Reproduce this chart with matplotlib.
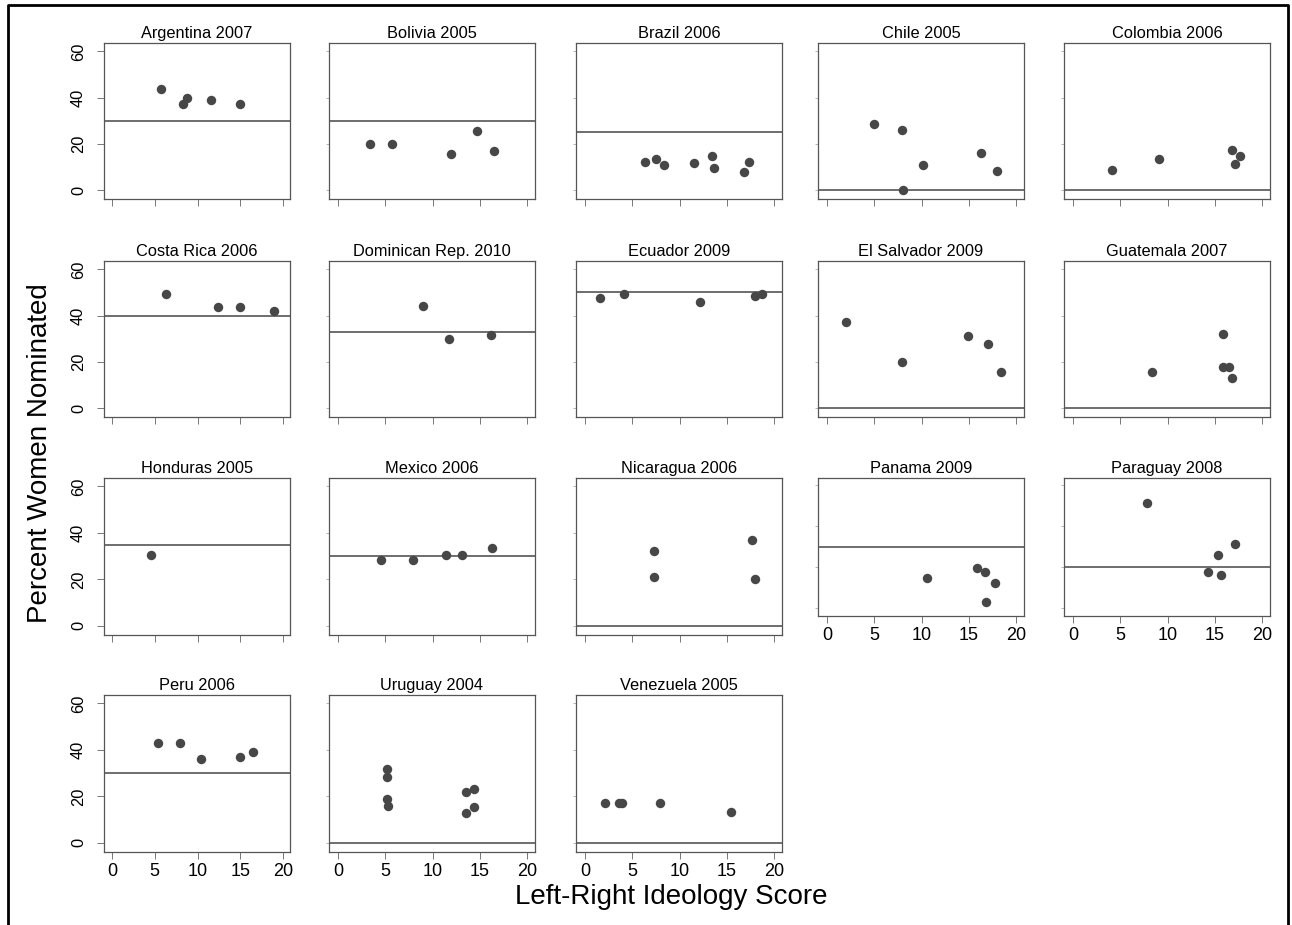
import matplotlib
matplotlib.use("Agg")
import matplotlib.pyplot as plt
from matplotlib.lines import Line2D

plt.rcParams['font.family'] = ['Liberation Sans', 'DejaVu Sans']

# Datos (ideologia, % mujeres nominadas)
titulos = ["Argentina 2007", "Bolivia 2005", "Brazil 2006", "Chile 2005", "Colombia 2006",
           "Costa Rica 2006", "Dominican Rep. 2010", "Ecuador 2009", "El Salvador 2009", "Guatemala 2007",
           "Honduras 2005", "Mexico 2006", "Nicaragua 2006", "Panama 2009", "Paraguay 2008",
           "Peru 2006", "Uruguay 2004", "Venezuela 2005"]

# linea horizontal (cuota) de cada pais
cuotas = [30, 30, 25, 0, 0, 40, 33, 50, 0, 0, 35, 30, 0, 30, 20, 30, 0, 0]

argentinaX = [5.7, 8.3, 8.8, 11.6, 15.0]
argentinaY = [43.6, 37.4, 39.8, 39.1, 37.4]
boliviaX = [3.4, 5.7, 11.9, 14.7, 16.5]
boliviaY = [20.0, 20.0, 15.5, 25.5, 17.0]
brazilX = [6.4, 7.5, 8.4, 11.5, 13.4, 13.6, 16.8, 17.3]
brazilY = [12.1, 13.4, 10.7, 11.5, 14.9, 9.7, 7.9, 12.1]
chileX = [5.0, 7.9, 8.0, 10.1, 16.3, 18.0]
chileY = [28.6, 25.8, 0.0, 10.7, 16.2, 8.4]
colombiaX = [4.1, 9.1, 16.8, 17.6, 17.1]
colombiaY = [8.7, 13.4, 17.3, 14.7, 11.3]
costaRicaX = [6.3, 12.4, 15.0, 19.0]
costaRicaY = [49.2, 43.9, 43.9, 42.1]
dominicanaX = [9.0, 11.7, 16.2]
dominicanaY = [44.3, 29.9, 31.6]
ecuadorX = [1.6, 4.1, 12.2, 18.0, 18.7]
ecuadorY = [47.5, 49.5, 45.9, 48.3, 49.5]
salvadorX = [2.0, 7.9, 14.9, 17.0, 18.4]
salvadorY = [37.1, 20.1, 31.0, 27.6, 15.4]
guatemalaX = [8.4, 15.9, 15.9, 16.5, 16.8]
guatemalaY = [15.6, 31.9, 17.7, 17.7, 12.8]
hondurasX = [4.6]
hondurasY = [30.6]
mexicoX = [4.5, 7.9, 11.4, 13.1, 16.3]
mexicoY = [28.4, 28.4, 30.3, 30.3, 33.3]
nicaraguaX = [7.3, 7.3, 17.6, 18.0]
nicaraguaY = [32.3, 21.1, 36.8, 20.0]
panamaX = [10.6, 15.9, 16.7, 17.8, 16.8]
panamaY = [14.5, 19.8, 17.7, 12.3, 3.0]
paraguayX = [7.85, 17.1, 15.3, 14.3, 15.6]
paraguayY = [51.3, 31.3, 25.7, 17.8, 16.3]
peruX = [5.4, 7.9, 10.4, 15.0, 16.5]
peruY = [43.0, 43.0, 36.1, 36.9, 38.9]
uruguayX = [5.2, 5.2, 5.2, 5.25, 13.5, 14.4, 13.5, 14.4]
uruguayY = [31.6, 28.4, 18.7, 15.9, 22.1, 23.2, 13.0, 15.4]
venezuelaX = [2.1, 3.6, 3.95, 7.9, 15.45]
venezuelaY = [17.1, 17.1, 17.1, 17.1, 13.2]

datosX = [argentinaX, boliviaX, brazilX, chileX, colombiaX, costaRicaX, dominicanaX, ecuadorX,
          salvadorX, guatemalaX, hondurasX, mexicoX, nicaraguaX, panamaX, paraguayX, peruX,
          uruguayX, venezuelaX]
datosY = [argentinaY, boliviaY, brazilY, chileY, colombiaY, costaRicaY, dominicanaY, ecuadorY,
          salvadorY, guatemalaY, hondurasY, mexicoY, nicaraguaY, panamaY, paraguayY, peruY,
          uruguayY, venezuelaY]

# Posiciones de los paneles en pixeles
W, H = 1292, 925
colIzq = [104, 329, 576, 818, 1064]
colDer = [290, 535, 782, 1024, 1270]
filaSup = [43, 261, 478, 695]
filaInf = [199, 417, 635, 852]

gris = '#474747'
fig = plt.figure(figsize=(W / 100, H / 100), dpi=100)

for k in range(len(titulos)):
    fila = k // 5
    col = k % 5
    izq = colIzq[col]
    der = colDer[col]
    sup = filaSup[fila]
    inf = filaInf[fila]
    # los paneles que llevan etiquetas x en la fila 3 son mas bajos
    conEtiquetaX = fila == 3 or (fila == 2 and col >= 3)
    if fila == 2 and col >= 3:
        inf = 616
    ax = fig.add_axes([izq / W, 1 - inf / H, (der - izq) / W, (inf - sup) / H])
    ax.plot(datosX[k], datosY[k], 'o', color=gris, markersize=6.8, markeredgewidth=0)
    ax.axhline(cuotas[k], color=gris, linewidth=1.1)
    ax.set_xlim(-0.94, 20.82)
    ax.set_ylim(-3.9, 63.6)
    ax.set_xticks([0, 5, 10, 15, 20])
    ax.set_yticks([0, 20, 40, 60])
    ax.set_title(titulos[k], fontsize=11.8, pad=3.5)
    for s in ax.spines.values():
        s.set_color('#555555')
        s.set_linewidth(0.9)
    ax.tick_params(axis='x', length=5, width=0.7, color='#777777', labelsize=13, pad=3)
    if not conEtiquetaX:
        ax.tick_params(axis='x', labelbottom=False)
    if col == 0:
        ax.tick_params(axis='y', length=5, width=0.7, color='#777777', labelsize=11.8,
                       labelrotation=90, pad=8)
        for et in ax.get_yticklabels():
            et.set_va('center')
    else:
        ax.tick_params(axis='y', length=2, width=0.6, color='#aaaaaa', labelleft=False)

fig.text(40 / W, 1 - 453 / H, "Percent Women Nominated", rotation=90, fontsize=20,
         ha='center', va='center')
fig.text(671 / W, 1 - 897 / H, "Left-Right Ideology Score", fontsize=20,
         ha='center', va='center')

# marco negro alrededor
fig.add_artist(Line2D([8 / W, 8 / W, 1288 / W, 1288 / W], [-0.01, 1 - 5 / H, 1 - 5 / H, -0.01],
                      color='black', linewidth=2, transform=fig.transFigure))

fig.savefig("out.png", dpi=100)
